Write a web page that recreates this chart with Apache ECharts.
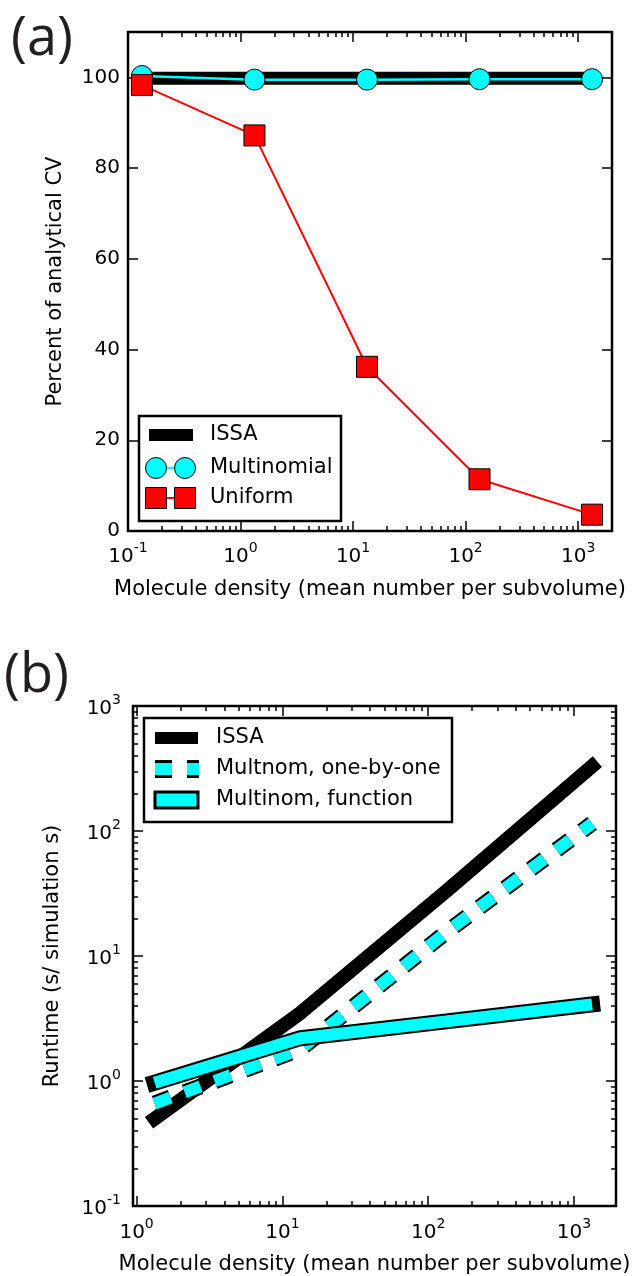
<!DOCTYPE html>
<html>
<head>
<meta charset="utf-8">
<script src="https://cdn.jsdelivr.net/npm/echarts@6/dist/echarts.min.js"></script>
<style>
html,body{margin:0;padding:0;background:#fff;}
#chart{width:636px;height:1276px;}
</style>
</head>
<body>
<div id="chart"></div>
<script>
// ---------- Data ----------
// Panel (a)
const densityA = [0.133, 1.33, 13.3, 133, 1330];
const issaA = [99.8, 99.8, 99.8, 99.8, 99.8];
const multinomialA = [100.3, 99.5, 99.5, 99.6, 99.6];
const uniformA = [98.3, 87.2, 36.2, 11.4, 3.6];
const yTicksA = [0, 20, 40, 60, 80, 100];
const xTicksA = [0.1, 1, 10, 100, 1000];

// Panel (b)
const densityB = [1.33, 13.3, 133, 1330];
const issaB = [0.5, 3.5, 33, 330];
const oneByOneB = [0.66, 1.8, 15.5, 115];
const functionB = [0.97, 2.2, 3.0, 4.1];
const xTicksB = [1, 10, 100, 1000];
const yTicksB = [0.1, 1, 10, 100, 1000];

const legendA = ['ISSA', 'Multinomial', 'Uniform'];
const legendB = ['ISSA', 'Multnom, one-by-one', 'Multinom, function'];
const xTitle = 'Molecule density (mean number per subvolume)';
const yTitleA = 'Percent of analytical CV';
const yTitleB = 'Runtime (s/ simulation s)';

// ---------- Helpers ----------
const FONT = 'DejaVu Sans';
const CYAN = '#00ffff', RED = '#ff0000', BLACK = '#000000';

function minorLog(decades, max) {
  const out = [];
  decades.forEach(d => {
    for (let k = 2; k <= 9; k++) {
      const v = Number((k * d).toPrecision(6));
      if (v < max) out.push(v);
    }
  });
  return out;
}
function pairs(xs, ys) { return xs.map((x, i) => [x, ys[i]]); }

const supRich = {
  b: {fontSize: 20, fontFamily: FONT, color: BLACK, lineHeight: 26, verticalAlign: 'bottom'},
  s: {fontSize: 14, fontFamily: FONT, color: BLACK, lineHeight: 14, verticalAlign: 'top'}
};
function supFmt(v) {
  const e = Math.round(Math.log10(v));
  return '{b|10}{s|' + e + '}';
}

const tickStyle = {color: BLACK, width: 1.5};

function logAxes(gridIndex, min, max, majors, minors, dims, label) {
  const posA = dims === 'x' ? 'bottom' : 'left';
  const posB = dims === 'x' ? 'top' : 'right';
  const base = {type: 'log', gridIndex, min, max, logBase: 10,
    axisLine: {show: false}, splitLine: {show: false}, minorTick: {show: false}};
  const main = Object.assign({}, base, {
    position: posA,
    axisTick: {show: true, inside: true, length: 10, customValues: majors, lineStyle: tickStyle},
    axisLabel: Object.assign({show: true, customValues: majors, formatter: supFmt, rich: supRich}, label.axisLabel),
    name: label.name, nameLocation: 'middle', nameGap: label.nameGap, nameRotate: label.nameRotate,
    nameMoveOverlap: false,
    nameTextStyle: {fontSize: 21, fontFamily: FONT, color: BLACK}
  });
  const mk = (pos, vals, len) => Object.assign({}, base, {
    position: pos,
    axisTick: {show: true, inside: true, length: len, customValues: vals, lineStyle: tickStyle},
    axisLabel: {show: false}
  });
  return [main, mk(posA, minors, 5), mk(posB, majors, 10), mk(posB, minors, 5)];
}

// ---------- Axes ----------
const xAxes = [].concat(
  logAxes(0, 0.1, 2000, xTicksA, minorLog([0.1, 1, 10, 100, 1000], 2000), 'x',
    {name: xTitle, nameGap: 48, axisLabel: {margin: 10}}),
  logAxes(1, 0.945, 1940, xTicksB, minorLog([1, 10, 100, 1000], 1940), 'x',
    {name: xTitle, nameGap: 48, axisLabel: {margin: 11}})
);

const yAxes = [
  {type: 'value', gridIndex: 0, min: 0, max: 110, position: 'left',
   axisLine: {show: false}, splitLine: {show: false},
   axisTick: {show: true, inside: true, length: 10, customValues: yTicksA, lineStyle: tickStyle},
   axisLabel: {show: true, customValues: yTicksA, fontSize: 20, fontFamily: FONT, color: BLACK, margin: 8},
   name: yTitleA, nameLocation: 'middle', nameGap: 62, nameRotate: 90, nameMoveOverlap: false,
   nameTextStyle: {fontSize: 21, fontFamily: FONT, color: BLACK}},
  {type: 'value', gridIndex: 0, min: 0, max: 110, position: 'right',
   axisLine: {show: false}, splitLine: {show: false},
   axisTick: {show: true, inside: true, length: 10, customValues: yTicksA, lineStyle: tickStyle},
   axisLabel: {show: false}}
].concat(
  logAxes(1, 0.1, 1000, yTicksB, minorLog([0.1, 1, 10, 100], 1000), 'y',
    {name: yTitleB, nameGap: 70, nameRotate: 90, axisLabel: {margin: 12}})
);

// ---------- Series ----------
const series = [
  {name: legendA[0], type: 'line', xAxisIndex: 0, yAxisIndex: 0, data: pairs(densityA, issaA),
   symbol: 'none', lineStyle: {color: BLACK, width: 13, cap: 'square'}},
  {name: legendA[1], type: 'line', xAxisIndex: 0, yAxisIndex: 0, data: pairs(densityA, multinomialA),
   symbol: 'circle', symbolSize: 21, showSymbol: true,
   lineStyle: {color: CYAN, width: 2.5},
   itemStyle: {color: CYAN, borderColor: BLACK, borderWidth: 1}},
  {name: legendA[2], type: 'line', xAxisIndex: 0, yAxisIndex: 0, data: pairs(densityA, uniformA),
   symbol: 'rect', symbolSize: 21, showSymbol: true,
   lineStyle: {color: RED, width: 2},
   itemStyle: {color: RED, borderColor: BLACK, borderWidth: 1}},

  {name: legendB[0], type: 'line', xAxisIndex: 4, yAxisIndex: 2, data: pairs(densityB, issaB),
   symbol: 'none', lineStyle: {color: BLACK, width: 14, cap: 'square'}},
  {name: legendB[1] + ' edge', type: 'line', xAxisIndex: 4, yAxisIndex: 2, data: pairs(densityB, oneByOneB),
   symbol: 'none', lineStyle: {color: BLACK, width: 16, type: [17, 15], cap: 'butt'}},
  {name: legendB[1], type: 'line', xAxisIndex: 4, yAxisIndex: 2, data: pairs(densityB, oneByOneB),
   symbol: 'none', lineStyle: {color: CYAN, width: 12, type: [17, 15], cap: 'butt'}},
  {name: legendB[2] + ' edge', type: 'line', xAxisIndex: 4, yAxisIndex: 2, data: pairs(densityB, functionB),
   symbol: 'none', lineStyle: {color: BLACK, width: 16, cap: 'square'}},
  {name: legendB[2], type: 'line', xAxisIndex: 4, yAxisIndex: 2, data: pairs(densityB, functionB),
   symbol: 'none', lineStyle: {color: CYAN, width: 12, cap: 'butt'}}
];
series.forEach(s => { s.silent = true; s.animation = false; });

// ---------- Legends & panel letters (graphic) ----------
function txt(x, y, text, size, family, color) {
  return {type: 'text', x, y, z: 110,
    style: {text, fontSize: size, fontFamily: family, fill: color || BLACK,
      verticalAlign: 'middle', textVerticalAlign: 'middle'}};
}
const graphic = [
  {type: 'text', x: 11, y: 13, z: 110, style: {text: '(a)', fontSize: 54, fontFamily: 'Open Sans', fill: '#231f20'}},
  {type: 'text', x: 4, y: 650, z: 110, style: {text: '(b)', fontSize: 54, fontFamily: 'Open Sans', fill: '#231f20'}},

  // legend (a)
  {type: 'rect', z: 100, shape: {x: 139, y: 416, width: 202, height: 105}, style: {fill: '#fff', stroke: BLACK, lineWidth: 2.5}},
  {type: 'rect', z: 101, shape: {x: 149, y: 429, width: 44, height: 12}, style: {fill: BLACK}},
  {type: 'line', z: 101, shape: {x1: 156, y1: 468, x2: 185, y2: 468}, style: {stroke: CYAN, lineWidth: 2.5}},
  {type: 'circle', z: 102, shape: {cx: 156, cy: 468, r: 10.5}, style: {fill: CYAN, stroke: BLACK, lineWidth: 1}},
  {type: 'circle', z: 102, shape: {cx: 185, cy: 468, r: 10.5}, style: {fill: CYAN, stroke: BLACK, lineWidth: 1}},
  {type: 'line', z: 101, shape: {x1: 156, y1: 498, x2: 185, y2: 498}, style: {stroke: RED, lineWidth: 2}},
  {type: 'rect', z: 102, shape: {x: 145.5, y: 487.5, width: 21, height: 21}, style: {fill: RED, stroke: BLACK, lineWidth: 1}},
  {type: 'rect', z: 102, shape: {x: 174.5, y: 487.5, width: 21, height: 21}, style: {fill: RED, stroke: BLACK, lineWidth: 1}},
  txt(210, 435, legendA[0], 21, FONT),
  txt(210, 468, legendA[1], 21, FONT),
  txt(210, 498, legendA[2], 21, FONT),

  // legend (b)
  {type: 'rect', z: 100, shape: {x: 144, y: 718, width: 308, height: 104}, style: {fill: '#fff', stroke: BLACK, lineWidth: 2.5}},
  {type: 'rect', z: 101, shape: {x: 155, y: 732, width: 43, height: 12}, style: {fill: BLACK}},
  {type: 'line', z: 101, shape: {x1: 155, y1: 769, x2: 199, y2: 769}, style: {stroke: BLACK, lineWidth: 18, lineDash: [17, 15], lineCap: 'butt'}},
  {type: 'line', z: 102, shape: {x1: 155, y1: 769, x2: 199, y2: 769}, style: {stroke: CYAN, lineWidth: 12, lineDash: [17, 15], lineCap: 'butt'}},
  {type: 'rect', z: 101, shape: {x: 155, y: 792, width: 43, height: 16}, style: {fill: CYAN, stroke: BLACK, lineWidth: 3}},
  txt(216, 738, legendB[0], 21, FONT),
  txt(216, 769, legendB[1], 21, FONT),
  txt(216, 800, legendB[2], 21, FONT)
];

const option = {
  animation: false,
  backgroundColor: '#ffffff',
  textStyle: {fontFamily: FONT},
  grid: [
    {left: 128, top: 32, width: 484, height: 499, show: true, borderColor: BLACK, borderWidth: 2.5,
     backgroundColor: 'transparent', containLabel: false, outerBoundsMode: 'none'},
    {left: 133, top: 706, width: 483, height: 500, show: true, borderColor: BLACK, borderWidth: 2.5,
     backgroundColor: 'transparent', containLabel: false, outerBoundsMode: 'none'}
  ],
  xAxis: xAxes,
  yAxis: yAxes,
  series,
  graphic
};

const chart = echarts.init(document.getElementById('chart'), null, {renderer: 'canvas'});
chart.setOption(option);
</script>
</body>
</html>
